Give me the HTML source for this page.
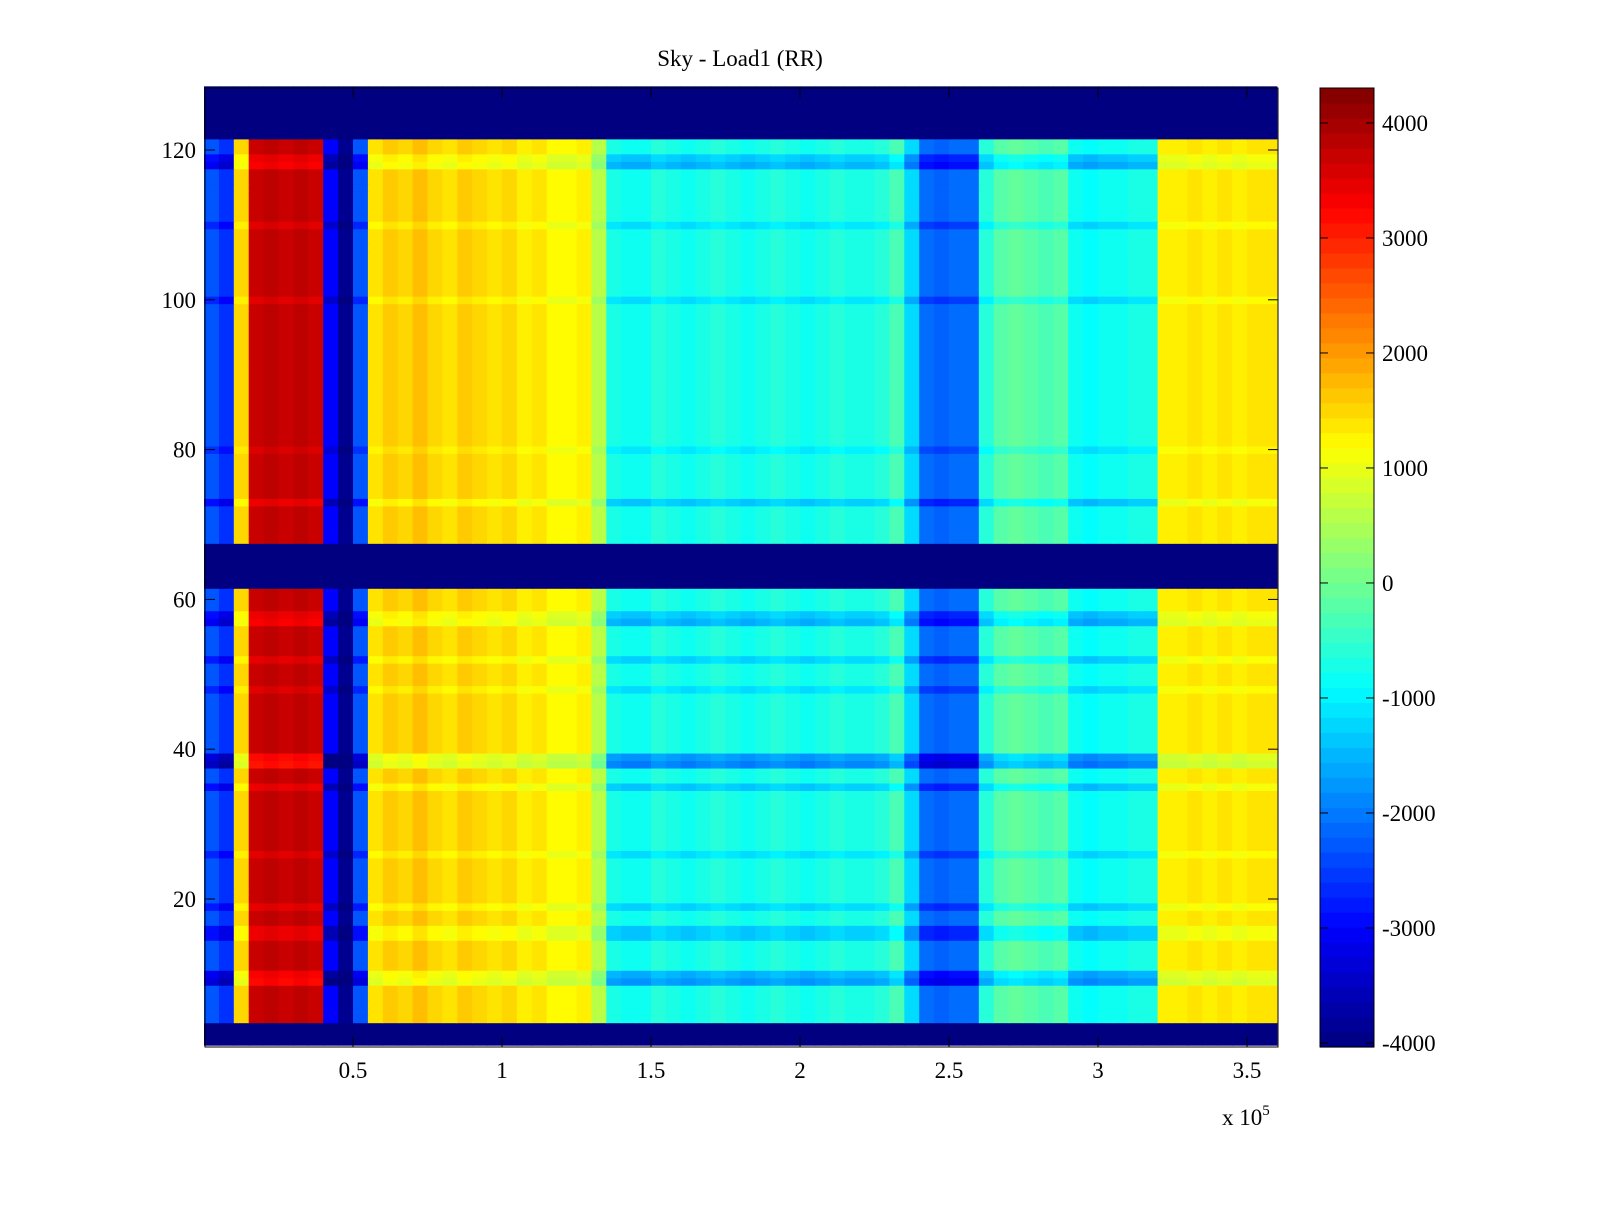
<!DOCTYPE html>
<html><head><meta charset="utf-8"><style>
body{margin:0;background:#fff;}
svg text{font-family:"Liberation Serif",serif;font-size:23px;fill:#000;}
</style></head><body>
<svg id="chart" width="1600" height="1200" xmlns="http://www.w3.org/2000/svg">
<rect width="1600" height="1200" fill="#fff"/>
<text x="740" y="66" text-anchor="middle">Sky - Load1 (RR)</text>
<g id="cells"></g>
<rect x="205" y="88" width="1073" height="959" fill="none" stroke="#000" stroke-width="1"/>
<g id="axes"></g>
<g id="cbar"></g>
<text x="1222" y="1125">x 10<tspan dy="-10" font-size="15">5</tspan></text>
</svg>
<script>
// ---- data ----
const colWidth = 5000; // x units per column
const colValues = [-2300,-2600,1500,3700,3800,3700,3800,3700,-3000,-3900,-2300,
 1400,1600,1500,1700,1500,1400,1600,1500,1400,1500,1300,1400,1200,1200,1300,600,
 -700,-800,-800,-600,-700,-800,-700,-600,-700,-800,-700,-600,-700,-800,-700,-600,-700,-700,-600,
 -300,-1200,-2100,-2200,-2100,-2100,-600,-200,-100,-200,-300,-200,
 -800,-900,-800,-800,-700,-700,1300,1300,1400,1300,1400,1300,1400,1400];
const maskedRows = [1,2,3,62,63,64,65,66,67,122,123,124,125,126,127,128];
const rowOffsets = {9:-500,10:-400,15:-300,16:-300,19:-250,26:-200,35:-300,38:-600,39:-500,
 48:-200,52:-250,57:-400,58:-300,73:-300,80:-150,100:-200,110:-200,118:-400,119:-300};
const xTicks = [0.5,1,1.5,2,2.5,3,3.5];
const yTicks = [20,40,60,80,100,120];
const cTicks = [-4000,-3000,-2000,-1000,0,1000,2000,3000,4000];
const vmin = -4035, vmax = 4304;
const nRows = 128;

// ---- scales ----
const X0=205,X1=1278,Y0=88,Y1=1047;
const xs = v => 204 + v/1e5*298;
const ys = r => 899 - (r-20)*7.49; // row center
const cbY = v => 1047 - (v - vmin)/(vmax - vmin)*959;

function jet(t){
  t=Math.max(0,Math.min(1,t));
  const f=c=>Math.round(255*Math.max(0,Math.min(1,c)));
  return `rgb(${f(1.5-Math.abs(4*t-3))},${f(1.5-Math.abs(4*t-2))},${f(1.5-Math.abs(4*t-1))})`;
}
const NS="http://www.w3.org/2000/svg";
function mk(tag,attrs,parent){const e=document.createElementNS(NS,tag);for(const k in attrs)e.setAttribute(k,attrs[k]);parent.appendChild(e);return e;}

const cells=document.getElementById('cells');
for(let r=1;r<=nRows;r++){
  const yTop=ys(r)-7.49/2;
  const masked=maskedRows.includes(r);
  for(let c=0;c<colValues.length;c++){
    let v = masked ? vmin : colValues[c] + (rowOffsets[r]||0)*(colValues[c]<0?2:1);
    const x0=xs(c*colWidth), x1=xs((c+1)*colWidth);
    const el=mk('rect',{x:x0.toFixed(2),y:yTop.toFixed(2),width:(x1-x0+0.6).toFixed(2),height:'8.1',fill:jet((v-vmin)/(vmax-vmin))},cells);
    
    
  }
}
const axes=document.getElementById('axes');
xTicks.forEach(t=>{
  const x=xs(t*1e5);
  mk('line',{x1:x,x2:x,y1:Y1,y2:Y1-10,stroke:'#000'},axes);
  mk('line',{x1:x,x2:x,y1:Y0,y2:Y0+10,stroke:'#000'},axes);
  const tx=mk('text',{x:x,y:1078,'text-anchor':'middle'},axes);tx.textContent=t;
  
  
});
yTicks.forEach(t=>{
  const y=ys(t);
  mk('line',{x1:X0,x2:X0+10,y1:y,y2:y,stroke:'#000'},axes);
  mk('line',{x1:X1,x2:X1-10,y1:y,y2:y,stroke:'#000'},axes);
  const tx=mk('text',{x:196,y:y+8,'text-anchor':'end'},axes);tx.textContent=t;
  
  
});
const cb=document.getElementById('cbar');
const steps=64;
for(let i=0;i<steps;i++){
  const v0=vmin+(vmax-vmin)*i/steps, v1=vmin+(vmax-vmin)*(i+1)/steps;
  const el=mk('rect',{x:1320,y:cbY(v1).toFixed(2),width:54,height:(cbY(v0)-cbY(v1)+0.6).toFixed(2),fill:jet((i+0.5)/steps)},cb);
  
  
}
mk('rect',{x:1320,y:88,width:54,height:959,fill:'none',stroke:'#000'},cb);
cTicks.forEach(t=>{
  const y=cbY(t);
  mk('line',{x1:1320,x2:1328,y1:y,y2:y,stroke:'#000'},cb);
  mk('line',{x1:1374,x2:1366,y1:y,y2:y,stroke:'#000'},cb);
  const tx=mk('text',{x:1382,y:y+8},cb);tx.textContent=t;
  
  
});
</script>
</body></html>
